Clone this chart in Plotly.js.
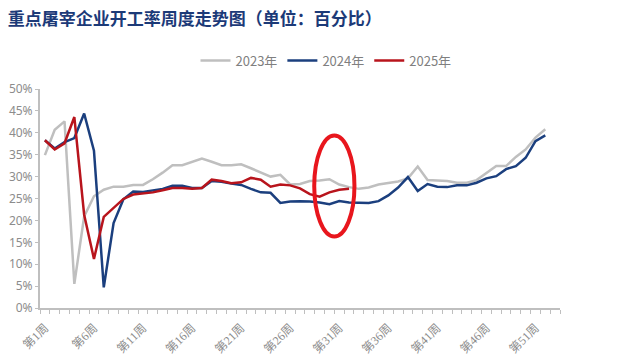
<!DOCTYPE html>
<html>
<head>
<meta charset="utf-8">
<script src="https://cdn.plot.ly/plotly-3.0.1.min.js"></script>
<style>html,body{margin:0;padding:0;background:#fff;}#chart{width:643px;height:357px;}</style>
</head>
<body>
<div id="chart"></div>
<script>
// Week categories 第1周 .. 第53周
var weeks = [];
for (var i = 1; i <= 53; i++) weeks.push('第' + i + '周');

var tickLabelWeeks = ['第1周','第6周','第11周','第16周','第21周','第26周','第31周','第36周','第41周','第46周','第51周'];

var y2023 = [34.9,40.7,42.6,5.5,20.9,25.5,27.0,27.7,27.7,28.1,28.1,
  29.4,30.9,32.6,32.6,33.4,34.1,33.4,32.6,32.6,32.8,31.9,31.0,30.0,30.4,
  28.2,28.3,29.0,29.1,29.4,28.2,27.6,27.2,27.5,28.2,28.5,28.9,29.6,32.3,
  29.2,29.1,29.0,28.6,28.6,29.2,30.9,32.4,32.4,34.5,36.2,38.9,40.8];

var y2024 = [38.3,36.4,37.9,38.8,44.4,35.9,4.7,19.4,24.8,26.6,26.5,
  26.8,27.2,27.9,27.9,27.4,27.4,29.0,28.8,28.4,28.1,27.2,26.4,26.3,24.0,
  24.3,24.4,24.3,24.1,23.7,24.4,24.1,24.0,24.0,24.4,25.7,27.5,29.9,26.7,
  28.3,27.7,27.6,28.0,28.0,28.6,29.6,30.1,31.7,32.4,34.3,38.1,39.4];

var y2025 = [38.3,36.2,37.6,43.6,21.3,11.2,20.8,22.9,24.9,25.9,26.2,
  26.4,26.9,27.4,27.4,27.2,27.4,29.3,29.0,28.5,28.7,29.7,29.3,27.7,28.2,
  28.0,27.3,26.0,25.4,26.4,27.0,27.2];

var yTicks = [0,5,10,15,20,25,30,35,40,45,50];

var seriesNames = ['2023年','2024年','2025年'];
var colors = ['#bfbfbf','#1b3f7e','#b8141c'];

function mk(vals, idx) {
  return {
    x: weeks.slice(0, vals.length),
    y: vals,
    name: seriesNames[idx],
    type: 'scatter',
    mode: 'lines',
    line: {color: colors[idx], width: 2.5},
    hoverinfo: 'x+y'
  };
}

var data = [mk(y2023,0), mk(y2024,1), mk(y2025,2)];

var tickText = weeks.map(function(w){ return tickLabelWeeks.indexOf(w) >= 0 ? w : ''; });

var layout = {
  width: 643,
  height: 357,
  margin: {l: 40, r: 83, t: 89, b: 49},
  paper_bgcolor: '#ffffff',
  plot_bgcolor: '#ffffff',
  showlegend: true,
  title: {
    text: '<b>重点屠宰企业开工率周度走势图（单位：百分比）</b>',
    font: {family: 'Noto Sans CJK SC', size: 17, color: '#1c3a78'},
    x: 0.012, xanchor: 'left',
    xref: 'container', yref: 'container',
    y: 0.948, yanchor: 'middle'
  },
  legend: {
    orientation: 'h',
    x: 0.55, xanchor: 'center',
    y: 1.13, yanchor: 'middle',
    font: {family: 'Noto Sans CJK SC', size: 13, color: '#7f7f7f'},
    itemwidth: 30,
    bgcolor: 'rgba(0,0,0,0)'
  },
  xaxis: {
    type: 'category',
    categoryorder: 'array',
    categoryarray: weeks,
    range: [-0.5, 52.5],
    tickmode: 'array',
    tickvals: weeks,
    ticktext: tickText,
    tickson: 'boundaries',
    ticks: 'outside',
    ticklen: 4,
    tickwidth: 1,
    tickcolor: '#bfbfbf',
    tickangle: -45,
    ticklabelstandoff: 6,
    tickfont: {family: 'Liberation Serif, Noto Sans CJK SC', size: 12, color: '#8c8c8c'},
    showline: true,
    linecolor: '#bfbfbf',
    linewidth: 2,
    showgrid: false,
    zeroline: false,
    fixedrange: true
  },
  yaxis: {
    range: [0, 50],
    tickmode: 'array',
    tickvals: yTicks,
    ticktext: yTicks.map(function(v){ return v + '%'; }),
    ticks: 'outside',
    ticklen: 3,
    tickcolor: '#bfbfbf',
    tickfont: {family: 'Noto Sans', size: 12, color: '#8c8c8c'},
    showline: true,
    linecolor: '#bfbfbf',
    linewidth: 2,
    showgrid: false,
    zeroline: false,
    fixedrange: true
  },
  shapes: [{
    type: 'circle',
    xref: 'x', yref: 'y',
    x0: 27.45, x1: 31.55,
    y0: 16.3, y1: 39.4,
    line: {color: '#e8161d', width: 4},
    fillcolor: 'rgba(0,0,0,0)'
  }]
};

Plotly.newPlot('chart', data, layout, {displayModeBar: false, staticPlot: true});
</script>
</body>
</html>
